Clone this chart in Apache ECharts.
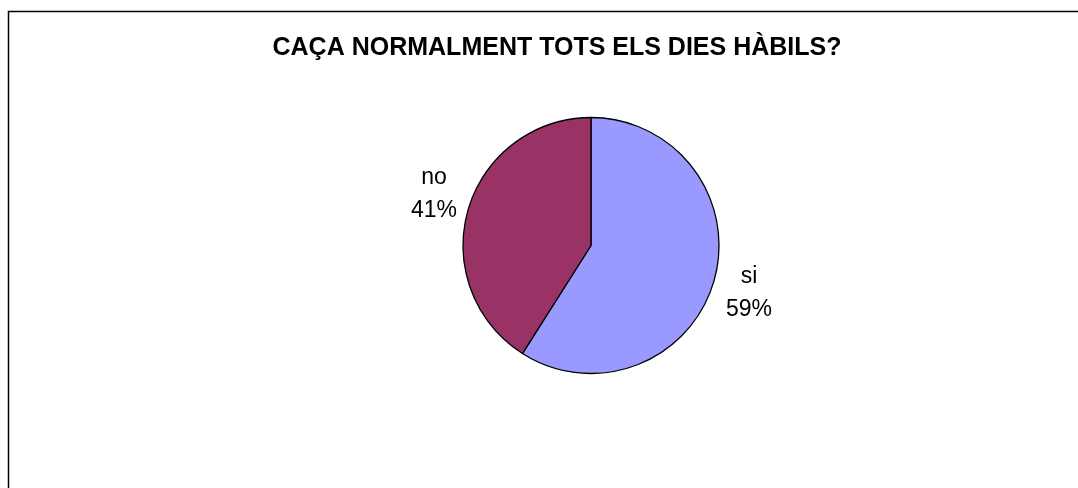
<!DOCTYPE html>
<html>
<head>
<meta charset="utf-8">
<script src="https://cdn.jsdelivr.net/npm/echarts@6/dist/echarts.min.js"></script>
<style>
html,body{margin:0;padding:0;background:#fff;}
#chart{width:1078px;height:488px;}
</style>
</head>
<body>
<div id="chart"></div>
<script>
const titleText = 'CAÇA NORMALMENT TOTS ELS DIES HÀBILS?';
const categories = ['si', 'no'];
const values = [59, 41];
const colors = ['#9999FF', '#993366'];
const labelPositions = [[749, 293.5], [434, 194.5]];

const chart = echarts.init(document.getElementById('chart'));
chart.setOption({
  backgroundColor: '#ffffff',
  animation: false,
  title: {
    text: titleText,
    left: 552,
    top: 31,
    textAlign: 'center',
    textStyle: {
      fontFamily: 'Liberation Sans, Arial, sans-serif',
      fontWeight: 'bold',
      fontSize: 25,
      color: '#000'
    }
  },
  graphic: [{
    type: 'rect',
    shape: { x: 8.5, y: 11.5, width: 1200, height: 600 },
    style: { fill: 'none', stroke: '#000', lineWidth: 1.5 },
    silent: true,
    z: -1
  }],
  series: [{
    type: 'pie',
    center: [591, 245.5],
    radius: 128,
    startAngle: 90,
    clockwise: true,
    avoidLabelOverlap: false,
    data: categories.map((c, i) => ({ name: c, value: values[i], itemStyle: { color: colors[i] } })),
    itemStyle: { borderColor: '#000', borderWidth: 1.3 },
    label: {
      show: true,
      position: 'outside',
      formatter: '{b}\n{d}%',
      fontFamily: 'Liberation Sans, Arial, sans-serif',
      fontSize: 23,
      lineHeight: 33,
      color: '#000',
      align: 'center'
    },
    labelLine: { show: false },
    labelLayout: function (params) {
      const p = labelPositions[params.dataIndex];
      return { x: p[0], y: p[1], align: 'center', verticalAlign: 'middle' };
    },
    emphasis: { disabled: true }
  }]
});
</script>
</body>
</html>
